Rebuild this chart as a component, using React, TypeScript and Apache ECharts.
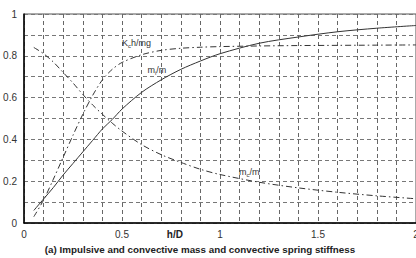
import React, { useEffect, useRef } from "react";
import * as echarts from "echarts";

const hD = [0.05, 0.1, 0.15, 0.2, 0.25, 0.3, 0.35, 0.4, 0.45, 0.5, 0.6, 0.7, 0.8, 0.9, 1.0, 1.2, 1.4, 1.6, 1.8, 2.0];
const miM = [0.06, 0.115, 0.17, 0.23, 0.285, 0.34, 0.395, 0.45, 0.495, 0.545, 0.625, 0.685, 0.735, 0.775, 0.81, 0.86, 0.89, 0.915, 0.932, 0.945];
const mcM = [0.84, 0.81, 0.77, 0.72, 0.67, 0.615, 0.565, 0.52, 0.478, 0.44, 0.375, 0.327, 0.29, 0.257, 0.232, 0.195, 0.168, 0.147, 0.13, 0.116];
const kcM = [0.03, 0.11, 0.21, 0.315, 0.42, 0.52, 0.61, 0.685, 0.735, 0.768, 0.805, 0.826, 0.836, 0.841, 0.844, 0.847, 0.849, 0.85, 0.851, 0.852];

const xLabels = ["0", "0.5", "1", "1.5", "2"];
const yLabels = ["0", "0.2", "0.4", "0.6", "0.8", "1"];

const FONT = "Liberation Sans, Arial, sans-serif";
const TXT = "#333";

export default function App() {
  const ref = useRef<HTMLDivElement>(null);
  useEffect(() => {
    if (!ref.current) return;
    const chart = echarts.init(ref.current, undefined, { renderer: "svg" });
    const pair = (ys: number[]) => hD.map((x, i) => [x, ys[i]]);
    const lineBase = { type: "line", showSymbol: false, symbol: "none", smooth: 0.3 };
    chart.setOption({
      animation: false,
      backgroundColor: "#fff",
      grid: {
        left: 24,
        right: 0,
        top: 14,
        bottom: 35,
        outerBoundsMode: "none",
        containLabel: false,
        show: true,
        borderColor: "#555",
        borderWidth: 1,
      },
      xAxis: {
        type: "value",
        min: 0,
        max: 2,
        interval: 0.1,
        axisLine: { show: true, onZero: false, lineStyle: { color: "#000", width: 1.5 } },
        axisTick: { show: false },
        axisLabel: {
          color: TXT,
          fontFamily: FONT,
          fontSize: 10,
          margin: 6,
          hideOverlap: false,
          showMaxLabel: true,
          formatter: (v: number) => {
            const r = Math.round(v * 10);
            if (r % 5 !== 0) return "";
            return xLabels[r / 5];
          },
        },
        splitLine: { show: true, lineStyle: { color: "#666", type: [4, 3], width: 1 } },
      },
      yAxis: {
        type: "value",
        min: 0,
        max: 1,
        interval: 0.1,
        axisLine: { show: true, lineStyle: { color: "#000", width: 1.5 } },
        axisTick: { show: false },
        axisLabel: {
          color: TXT,
          fontFamily: FONT,
          fontSize: 10,
          margin: 7,
          formatter: (v: number) => {
            const r = Math.round(v * 10);
            if (r % 2 !== 0) return "";
            return yLabels[r / 2];
          },
        },
        splitLine: { show: true, lineStyle: { color: "#777", type: [4, 3], width: 1 } },
      },
      series: [
        { ...lineBase, name: "mi/m", data: pair(miM), lineStyle: { color: "#333", width: 1 } },
        { ...lineBase, name: "mc/m", data: pair(mcM), lineStyle: { color: "#333", width: 1, type: [6, 3, 1.5, 3] } },
        { ...lineBase, name: "Kch/mg", data: pair(kcM), lineStyle: { color: "#333", width: 1, type: [6, 3, 1.5, 3] } },
      ],
    });
    const px = (x: number, y: number) => chart.convertToPixel({ gridIndex: 0 }, [x, y]) as number[];
    const kc = px(0.5, 0.861);
    const mi = px(0.63, 0.732);
    const mc = px(1.097, 0.244);
    const hd = px(0.77, 0);
    const labelStyle = { fill: TXT, fontFamily: FONT, fontSize: 9, verticalAlign: "middle" };
    const sub = { fontSize: 6, fill: TXT, fontFamily: FONT, verticalAlign: "bottom", padding: [5, 0, 0, 0] };
    chart.setOption({
      graphic: [
        { type: "text", x: kc[0], y: kc[1], style: { ...labelStyle, text: "K{s|c}h/mg", rich: { s: sub } } },
        { type: "text", x: mi[0], y: mi[1], style: { ...labelStyle, text: "m{s|i}/m", rich: { s: sub } } },
        { type: "text", x: mc[0], y: mc[1], style: { ...labelStyle, text: "m{s|c}/m", rich: { s: sub } } },
        {
          type: "text",
          x: hd[0],
          y: hd[1] + 11,
          style: { fill: "#222", fontFamily: FONT, fontSize: 10, fontWeight: "bold", text: "h/D", align: "center", verticalAlign: "middle" },
        },
        {
          type: "text",
          x: 200,
          y: 249,
          style: {
            fill: "#222",
            fontFamily: FONT,
            fontSize: 9.8,
            fontWeight: "bold",
            text: "(a) Impulsive and convective mass and convective spring stiffness",
            align: "center",
            verticalAlign: "middle",
          },
        },
      ],
    });
    return () => chart.dispose();
  }, []);
  return <div ref={ref} style={{ position: "fixed", left: 0, top: 0, width: 416, height: 258 }} />;
}
